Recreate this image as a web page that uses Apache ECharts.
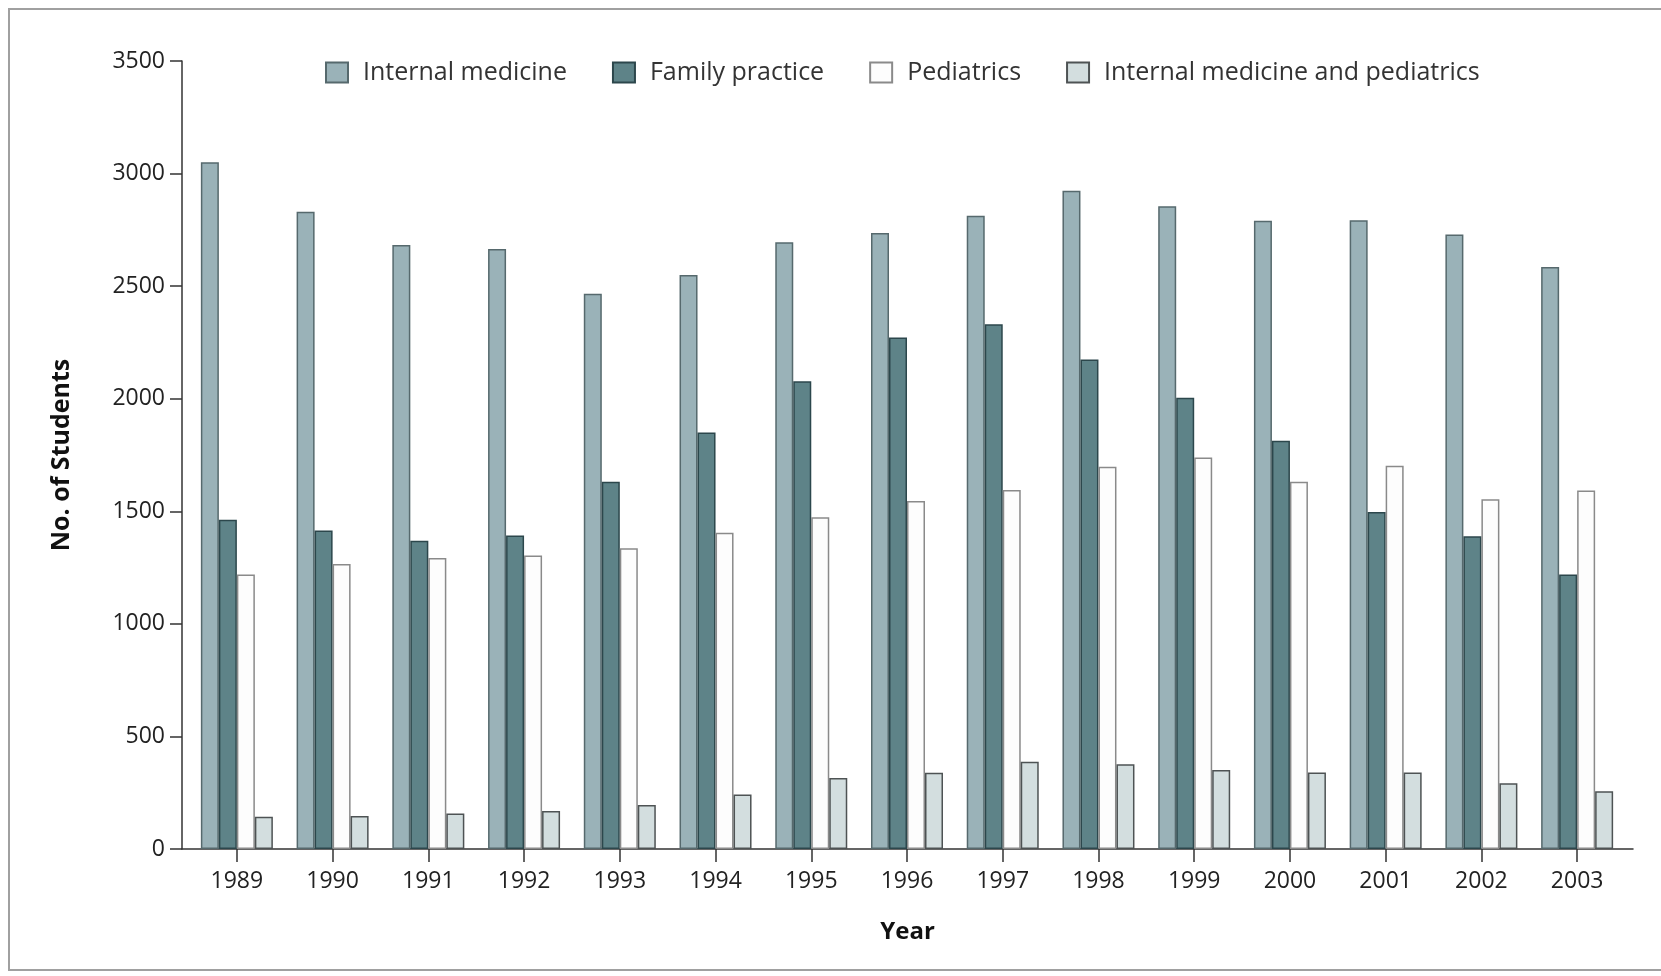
<!DOCTYPE html>
<html>
<head>
<meta charset="utf-8">
<script src="https://cdn.jsdelivr.net/npm/echarts@6/dist/echarts.min.js"></script>
<style>
  html, body { margin: 0; padding: 0; width: 1661px; height: 976px; overflow: hidden; background: #ffffff; }
  #frame { position: absolute; left: 8px; top: 8px; width: 1700px; height: 963px; border: 2px solid #a0a0a0; box-sizing: border-box; }
  #chart { position: absolute; left: 0; top: 0; width: 1661px; height: 976px; }
</style>
</head>
<body>
<div id="frame"></div>
<div id="chart"></div>
<script>
const years = ['1989','1990','1991','1992','1993','1994','1995','1996','1997','1998','1999','2000','2001','2002','2003'];
const yTicks = { min: 0, max: 3500, interval: 500 };
const seriesNames = ['Internal medicine', 'Family practice', 'Pediatrics', 'Internal medicine and pediatrics'];
const internalMedicine = [3050, 2830, 2683, 2665, 2466, 2550, 2695, 2736, 2813, 2924, 2855, 2791, 2793, 2729, 2585];
const familyPractice   = [1462, 1415, 1369, 1392, 1631, 1850, 2078, 2272, 2331, 2174, 2004, 1813, 1497, 1389, 1219];
const pediatrics       = [1219, 1266, 1292, 1304, 1336, 1405, 1474, 1546, 1595, 1698, 1739, 1631, 1702, 1553, 1592];
const imPeds           = [143, 147, 158, 169, 195, 242, 315, 339, 388, 376, 351, 340, 340, 292, 256];

const styles = [
  { color: '#9ab2b8', borderColor: '#56696d' },
  { color: '#5e8388', borderColor: '#2c474c' },
  { color: '#fdfdfd', borderColor: '#8a8a8a' },
  { color: '#d3dedf', borderColor: '#4e5354' }
];
const values = [internalMedicine, familyPractice, pediatrics, imPeds];
const FONT = '"Open Sans", "Liberation Sans", sans-serif';

const chart = echarts.init(document.getElementById('chart'), null, { renderer: 'canvas' });
chart.setOption({
  animation: false,
  backgroundColor: 'transparent',
  textStyle: { fontFamily: FONT },
  legend: {
    data: seriesNames,
    left: 320,
    top: 55,
    itemWidth: 22,
    itemHeight: 20,
    itemGap: 45,
    icon: 'rect',
    textStyle: { fontFamily: FONT, fontSize: 25, color: '#333', padding: [0, 0, 0, 10] }
  },
  grid: [
    { left: 182, right: 28, top: 61, bottom: 127 },
    { left: 189, right: 36, top: 61, bottom: 127 }
  ],
  xAxis: [
    {
      gridIndex: 0, type: 'category', data: years,
      name: 'Year', nameLocation: 'middle', nameGap: 71,
      nameTextStyle: { fontFamily: FONT, fontSize: 24, fontWeight: 'bold', color: '#111' },
      axisLine: { show: true, lineStyle: { color: '#333', width: 1.5 } },
      axisTick: { show: false }, axisLabel: { show: false }, splitLine: { show: false }
    },
    {
      gridIndex: 1, type: 'category', data: years,
      axisLine: { show: false },
      axisTick: { show: true, alignWithLabel: true, length: 13, lineStyle: { color: '#333', width: 1.5 } },
      axisLabel: { fontFamily: FONT, fontSize: 23, color: '#222', margin: 21 },
      splitLine: { show: false }
    }
  ],
  yAxis: [
    {
      gridIndex: 0, type: 'value', min: yTicks.min, max: yTicks.max, interval: yTicks.interval,
      name: 'No. of Students', nameLocation: 'middle', nameGap: 108,
      nameTextStyle: { fontFamily: FONT, fontSize: 25, fontWeight: 'bold', color: '#111' },
      axisLine: { show: true, lineStyle: { color: '#333', width: 1.5 } },
      axisTick: { show: true, length: 12, lineStyle: { color: '#333', width: 1.5 } },
      axisLabel: { fontFamily: FONT, fontSize: 23, color: '#222', margin: 17, formatter: v => String(v) },
      splitLine: { show: false }
    },
    {
      gridIndex: 1, type: 'value', min: yTicks.min, max: yTicks.max, interval: yTicks.interval,
      show: false, splitLine: { show: false }
    }
  ],
  series: seriesNames.map((name, i) => ({
    name: name,
    type: 'bar',
    xAxisIndex: 1,
    yAxisIndex: 1,
    data: values[i],
    barWidth: 18,
    barGap: '0%',
    itemStyle: { color: styles[i].color, borderColor: styles[i].borderColor, borderWidth: 1.5 }
  }))
});
</script>
</body>
</html>
